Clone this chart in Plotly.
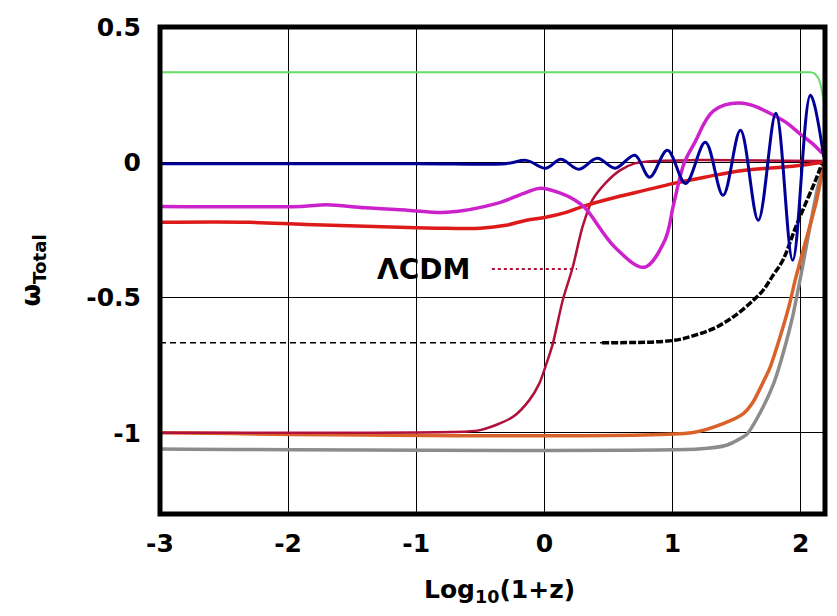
import plotly.graph_objects as go

# ---- data ----
x_ticks = [-3, -2, -1, 0, 1, 2]
x_tick_text = ["-3", "-2", "-1", "0", "1", "2"]
y_ticks = [0.5, 0, -0.5, -1]
y_tick_text = ["0.5", "0", "-0.5", "-1"]

green_x = [-3.0, 2.08, 2.11, 2.14, 2.16, 2.18, 2.19]
green_y = [0.333, 0.333, 0.328, 0.31, 0.28, 0.23, 0.20]

blue_x = [-3.0, -1.0, -0.30, -0.142, 0.012, 0.128, 0.267, 0.413, 0.552, 0.706, 0.821,
          0.960, 1.102, 1.256, 1.394, 1.530, 1.669, 1.807, 1.938, 2.076, 2.18]
blue_y = [-0.005, -0.005, -0.005, 0.007, -0.022, 0.011, -0.026, 0.015, -0.022, 0.026, -0.055,
          0.044, -0.078, 0.074, -0.122, 0.118, -0.214, 0.181, -0.362, 0.248, 0.02]

magenta_x = [-3.0, -1.9, -1.7, -1.4, -1.07, -0.76, -0.37, -0.14, -0.03, 0.13, 0.24,
             0.32, 0.55, 0.78, 0.94, 1.01, 1.09, 1.17, 1.32, 1.55, 1.86, 1.99, 2.09, 2.17]
magenta_y = [-0.163, -0.163, -0.157, -0.168, -0.177, -0.185, -0.152, -0.111, -0.096, -0.115, -0.140,
             -0.170, -0.314, -0.388, -0.288, -0.152, -0.004, 0.07, 0.19, 0.218, 0.155, 0.107, 0.07, 0.033]

red_x = [-3.0, -2.3, -1.86, -1.0, -0.76, -0.5, -0.30, -0.14, 0.01, 0.17, 0.32, 0.55, 0.78,
         1.01, 1.25, 1.55, 1.94, 2.17]
red_y = [-0.222, -0.222, -0.230, -0.242, -0.244, -0.244, -0.233, -0.214, -0.203, -0.185, -0.160,
         -0.130, -0.104, -0.078, -0.055, -0.030, -0.015, 0.0]

lcdm_x = [-3.0, -0.6, -0.504, -0.373, -0.242, -0.119, -0.042, 0.012, 0.066, 0.143, 0.220, 0.297,
          0.374, 0.475, 0.59, 0.706, 0.86, 1.168, 2.17]
lcdm_y = [-1.0, -0.995, -0.99, -0.97, -0.94, -0.88, -0.82, -0.75, -0.67, -0.51, -0.39, -0.24,
          -0.14, -0.078, -0.03, -0.004, 0.005, 0.008, 0.005]

orange_x = [-3.0, 1.15, 1.40, 1.55, 1.63, 1.70, 1.76, 1.83, 1.91, 1.96, 2.04, 2.12, 2.18]
orange_y = [-1.0, -1.0, -0.965, -0.93, -0.885, -0.82, -0.76, -0.66, -0.53, -0.43, -0.29, -0.15, -0.01]

gray_x = [-3.0, 1.2, 1.42, 1.58, 1.69, 1.79, 1.87, 1.94, 1.99, 2.02, 2.08, 2.13, 2.18]
gray_y = [-1.06, -1.06, -1.046, -1.005, -0.92, -0.817, -0.695, -0.565, -0.447, -0.373, -0.22, -0.10, -0.01]

black_flat_x = [-3.0, 0.45]
black_flat_y = [-0.667, -0.667]

black_x = [0.45, 1.0, 1.17, 1.34, 1.49, 1.63, 1.707, 1.784, 1.861, 1.961, 2.039, 2.116, 2.17]
black_y = [-0.667, -0.659, -0.64, -0.61, -0.566, -0.51, -0.473, -0.418, -0.362, -0.24, -0.152, -0.067, 0.0]

legend_label = "ΛCDM"

# ---- figure ----
fig = go.Figure()

def add(x, y, color, width, dash="solid", shape="linear", smoothing=1.0):
    fig.add_trace(go.Scatter(x=x, y=y, mode="lines",
                             line=dict(color=color, width=width, dash=dash, shape=shape,
                                       smoothing=smoothing),
                             showlegend=False, hoverinfo="skip"))

add(black_flat_x, black_flat_y, "black", 1.5, "6px,4px")
add(gray_x, gray_y, "#8c8c8c", 3.5, shape="spline", smoothing=0.6)
add(orange_x, orange_y, "#d9622b", 3.5, shape="spline", smoothing=0.6)
add(lcdm_x, lcdm_y, "#b0103a", 2.5, shape="spline", smoothing=0.8)
add(black_x, black_y, "black", 3.5, "7px,2px", shape="spline")
add(red_x, red_y, "#dd1a1a", 3.5, shape="spline")
add(magenta_x, magenta_y, "#cc22cc", 3.5, shape="spline")
add(green_x, green_y, "#66dd66", 2, shape="linear")
add(blue_x, blue_y, "#000099", 3, shape="spline")

tick_font = dict(family="DejaVu Sans", size=25, color="black", weight="bold")

fig.update_layout(
    width=821, height=600,
    margin=dict(l=152, r=4, t=19, b=94),
    paper_bgcolor="white", plot_bgcolor="white",
    xaxis=dict(range=[-3, 2.19], tickvals=x_ticks, ticktext=x_tick_text,
               showgrid=True, gridcolor="black", gridwidth=1,
               showline=False, zeroline=False, ticks="", tickfont=tick_font,
               ticklabelstandoff=12, automargin=False),
    yaxis=dict(range=[-1.3, 0.5], tickvals=y_ticks, ticktext=y_tick_text,
               showgrid=True, gridcolor="black", gridwidth=1,
               showline=False, zeroline=False, ticks="", tickfont=tick_font,
               ticklabelstandoff=18, automargin=False),
    annotations=[
        dict(text="Log<sub>10</sub>(1+z)", xref="paper", yref="paper",
             x=0.51, y=-0.158, xanchor="center", yanchor="middle", showarrow=False,
             font=dict(family="DejaVu Sans", size=25, color="black", weight="bold")),
        dict(text="ω<sub>Total</sub>", xref="paper", yref="paper",
             x=-0.191, y=0.50, xanchor="center", yanchor="middle", showarrow=False,
             textangle=-90, font=dict(family="DejaVu Sans", size=26, color="black", weight="bold")),
        dict(text=legend_label, xref="paper", yref="paper",
             x=0.469, y=0.503, xanchor="right", yanchor="middle", showarrow=False,
             font=dict(family="DejaVu Sans", size=28, color="black", weight="bold")),
    ],
    shapes=[
        dict(type="rect", xref="paper", yref="paper", x0=0, x1=1, y0=0, y1=1,
             line=dict(color="black", width=5), layer="above"),
        dict(type="line", xref="paper", yref="paper", x0=0.499, x1=0.627, y0=0.503, y1=0.503,
             line=dict(color="#b0103a", width=2, dash="dot")),
    ],
)

fig.write_html("out.html")
